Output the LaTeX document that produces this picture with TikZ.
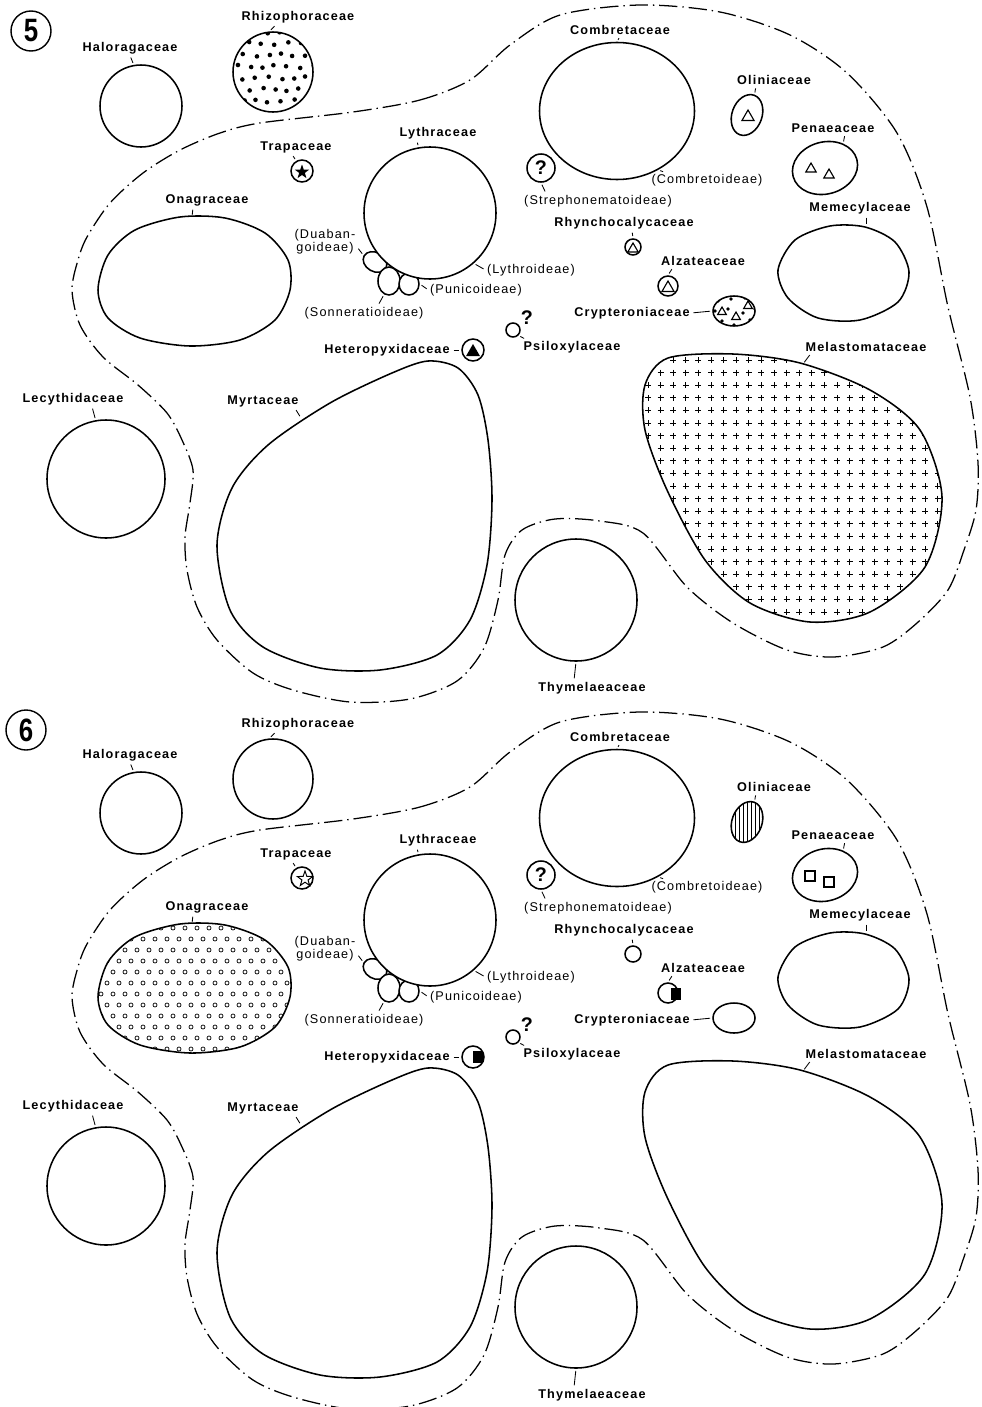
\documentclass[tikz,border=0pt]{standalone}
\usepackage{fontspec}
\usetikzlibrary{shapes.geometric}
\newfontfamily\famfont[LetterSpace=9]{Liberation Sans}
\newfontfamily\numfont{Liberation Sans}
\newdimen\px
\px=0.025cm

% outlines used in both panels (pixel grid, y downwards)
\newcommand{\borderline}{plot[smooth cycle] coordinates {(353,112) (420,100) (470,80) (510,45) (560,15) (640,5) (720,12) (790,35) (847,73) (897,133) (927,207) (948,307) (970,397) (978,463) (976,510) (964,550) (948,590) (917,623) (883,647) (833,657) (787,650) (733,623) (687,587) (643,533) (600,521) (555,519) (522,530) (505,555) (498,600) (484,648) (457,681) (410,699) (350,702) (293,690) (253,673) (217,640) (197,607) (187,570) (185,537) (190,503) (193,470) (182,440) (167,413) (138,385) (103,357) (80,325) (72,290) (78,260) (87,237) (110,203) (143,173) (180,150) (220,133) (260,123)}}
\newcommand{\onagblob}{plot[smooth cycle] coordinates {(98,290) (108,255) (135,230) (180,217) (225,218) (265,233) (288,260) (290,290) (275,320) (240,340) (190,346) (140,338) (108,318)}}
\newcommand{\myrtblob}{plot[smooth cycle] coordinates {(217,545) (232,488) (268,445) (330,403) (392,373) (428,361) (458,368) (478,395) (488,440) (492,500) (487,565) (470,620) (437,655) (380,670) (320,668) (263,647) (230,610)}}
\newcommand{\melablob}{plot[smooth cycle] coordinates {(645,385) (668,358) (733,354) (800,363) (870,390) (920,430) (942,497) (925,567) (870,612) (810,622) (750,603) (705,560) (667,490) (645,430)}}
\newcommand{\memeblob}{plot[smooth cycle] coordinates {(778,270) (795,240) (830,226) (865,227) (895,242) (909,272) (898,302) (860,320) (818,318) (788,298)}}

\begin{document}
\begin{tikzpicture}[x=0.025cm, y=-0.025cm,
    outline/.style={line width=1.1pt},
    famcirc/.style={circle, draw, outline, fill=white, inner sep=0pt, minimum size=#1\px},
    famoval/.style={ellipse, draw, outline, fill=white, inner sep=0pt},
    famlab/.style={font=\famfont\bfseries\fontsize{9}{10}\selectfont, inner sep=1pt},
    sublab/.style={font=\famfont\fontsize{9}{9.5}\selectfont, inner sep=1pt, align=center},
    tick/.style={line width=0.6pt, shorten <=1.5pt, shorten >=1.5pt},
    border/.style={line width=0.9pt, dash pattern=on 13pt off 3.5pt on 1pt off 3.5pt},
    tri/.style={regular polygon, regular polygon sides=3, draw, line width=0.8pt, inner sep=0pt, minimum size=#1\px},
    sqr/.style={rectangle, draw, line width=0.8pt, inner sep=0pt, minimum size=#1\px},
    qmark/.style={font=\numfont\bfseries\fontsize{14}{14}\selectfont, inner sep=0pt},
    panelnum/.style={circle, draw, line width=1pt, inner sep=0pt, minimum size=40\px, font=\numfont\bfseries\fontsize{23}{23}\selectfont},
    crossmark/.style={line width=0.5pt},
]
\fill[white] (0,0) rectangle (981,1407);
\useasboundingbox (0,0) rectangle (981,1407);

% Panel numbers
\node[panelnum] (num5) at (31,31) {\scalebox{0.8}[1]{5}};
\node[panelnum] (num6) at (26,730) {\scalebox{0.8}[1]{6}};

% Layout shared by both panels
\foreach \p/\dy in {5/0, 6/707}{
\begin{scope}[shift={(0,\dy)}]
  % boundary of the order
  \draw[border] \borderline;

  % families outside the boundary
  \node[famcirc=82] (halo\p) at (141,106) {};
  \node[famlab] (halolab\p) at (130,48) {Haloragaceae};
  \draw[tick] (halolab\p.south) -- (halo\p.100);
  \node[famcirc=80] (rhiz\p) at (273,72) {};
  \node[famlab] (rhizlab\p) at (298,17) {Rhizophoraceae};
  \draw[tick] ([xshift=-22\px]rhizlab\p.south) -- (rhiz\p.95);
  \node[famcirc=118] (lecy\p) at (106,479) {};
  \node[famlab] (lecylab\p) at (73,399) {Lecythidaceae};
  \draw[tick] ([xshift=19\px]lecylab\p.south) -- (lecy\p.100);
  \node[famcirc=122] (thym\p) at (576,600) {};
  \node[famlab] (thymlab\p) at (592,688) {Thymelaeaceae};
  \draw[tick] ([xshift=-18\px]thymlab\p.north) -- (thym\p.south);

  % Trapaceae, Onagraceae
  \node[famcirc=22] (trap\p) at (302,171) {};
  \node[famlab] (traplab\p) at (296,147) {Trapaceae};
  \draw[tick] ([xshift=-4\px]traplab\p.south) -- (trap\p.120);
  \draw[outline] \onagblob;
  \coordinate (onagtop\p) at (192,217);
  \node[famlab] (onaglab\p) at (207,200) {Onagraceae};
  \draw[tick] ([xshift=-14\px]onaglab\p.south) -- (onagtop\p);

  % Lythraceae and its subfamilies
  \node[famoval, minimum width=25\px, minimum height=19\px, rotate=-30] (duab\p) at (375,262) {};
  \node[famoval, minimum width=22\px, minimum height=28\px] (sonn\p) at (389,281) {};
  \node[famoval, minimum width=20\px, minimum height=22\px] (puni\p) at (409,284) {};
  \node[famcirc=132] (lyth\p) at (430,213) {};
  \node[famlab] (lythlab\p) at (438,133) {Lythraceae};
  \draw[tick] ([xshift=-21\px]lythlab\p.south) -- (lyth\p.100);
  \node[sublab] (duablab\p) at (325,242) {(Duaban-\\goideae)};
  \draw[tick] ([yshift=-5\px]duablab\p.east) -- (duab\p.west);
  \node[sublab] (lythrlab\p) at (531,270) {(Lythroideae)};
  \draw[tick] (lythrlab\p.west) -- (lyth\p.311);
  \node[sublab] (punilab\p) at (476,290) {(Punicoideae)};
  \draw[tick] (punilab\p.west) -- (puni\p.east);
  \node[sublab] (sonnlab\p) at (364,313) {(Sonneratioideae)};
  \draw[tick] ([xshift=14\px]sonnlab\p.north) -- (sonn\p.250);

  % Heteropyxidaceae, Psiloxylaceae
  \node[famcirc=22] (hete\p) at (473,350) {};
  \node[famlab] (hetelab\p) at (387,350) {Heteropyxidaceae};
  \draw[tick] (hetelab\p.east) -- (hete\p.west);
  \node[famcirc=14] (psil\p) at (513,330) {};
  \node[qmark] (psilq\p) at (527,318) {?};
  \node[famlab] (psillab\p) at (572,347) {Psiloxylaceae};
  \draw[tick] (psil\p.south east) -- ([xshift=-46\px]psillab\p.north);

  % Myrtaceae
  \draw[outline] \myrtblob;
  \coordinate (myrttop\p) at (301,418);
  \node[famlab] (myrtlab\p) at (263,401) {Myrtaceae};
  \draw[tick] ([xshift=32\px]myrtlab\p.south) -- (myrttop\p);

  % Combretaceae
  \node[famoval, minimum width=155\px, minimum height=137\px] (comb\p) at (617,111) {};
  \node[famlab] (comblab\p) at (620,30) {Combretaceae};
  \draw[tick] (comblab\p.south) -- (comb\p.north);
  \node[famcirc=28, qmark] (stre\p) at (541,168) {?};
  \node[sublab] (strelab\p) at (598,201) {(Strephonematoideae)};
  \draw[tick] (stre\p.south) -- ([xshift=-52\px]strelab\p.north);
  \node[sublab] (combolab\p) at (707,180) {(Combretoideae)};
  \draw[tick] ([xshift=-42\px]combolab\p.north) -- (comb\p.305);

  % small families in the middle
  \node[famcirc=16] (rhyn\p) at (633,247) {};
  \node[famlab] (rhynlab\p) at (624,223) {Rhynchocalycaceae};
  \draw[tick] ([xshift=8\px]rhynlab\p.south) -- (rhyn\p.north);
  \node[famcirc=20] (alza\p) at (668,286) {};
  \node[famlab] (alzalab\p) at (703,261) {Alzateaceae};
  \draw[tick] ([xshift=-30\px]alzalab\p.south) -- (alza\p.north);
  \node[famoval, minimum width=42\px, minimum height=30\px] (cryp\p) at (734,311) {};
  \node[famlab] (cryplab\p) at (632,313) {Crypteroniaceae};
  \draw[tick] (cryplab\p.east) -- (cryp\p.west);

  % Oliniaceae, Penaeaceae, Memecylaceae
  \node[famoval, minimum width=30\px, minimum height=42\px, rotate=-20] (olin\p) at (747,115) {};
  \node[famlab] (olinlab\p) at (774,80) {Oliniaceae};
  \draw[tick] ([xshift=-18\px]olinlab\p.south) -- (olin\p.north);
  \node[famoval, minimum width=66\px, minimum height=52\px, rotate=15] (pena\p) at (825,168) {};
  \node[famlab] (penalab\p) at (833,128) {Penaeaceae};
  \draw[tick] ([xshift=12\px]penalab\p.south) -- (pena\p.north east);
  \draw[outline] \memeblob;
  \coordinate (memetop\p) at (866,226);
  \node[famlab] (memelab\p) at (860,208) {Memecylaceae};
  \draw[tick] ([xshift=6\px]memelab\p.south) -- (memetop\p);

  % Melastomataceae
  \draw[outline] \melablob;
  \coordinate (melatop\p) at (803,364);
  \node[famlab] (melalab\p) at (866,347) {Melastomataceae};
  \draw[tick] ([xshift=-55\px]melalab\p.south) -- (melatop\p);
\end{scope}
}

% Panel 5 markings
\begin{scope}
  \clip (rhiz5.center) circle[radius=39.5];
  \foreach \r in {0,...,7}
    \foreach \c in {0,...,7}
      \fill ({231+\c*12.5+mod(\r,2)*6.2+1.5*sin(\r*130+\c*70)}, {32+\r*11.5+1.5*cos(\r*60+\c*110)}) circle[radius=2.3];
\end{scope}
\node[star, star points=5, star point ratio=2.5, fill, inner sep=0pt, minimum size=15\px] (trapstar5) at (302,172) {};
\node[regular polygon, regular polygon sides=3, fill, inner sep=0pt, minimum size=16\px] (hetetri5) at (473,352) {};
\node[tri=12] (rhyntri5) at (633,249) {};
\node[tri=14] (alzatri5) at (668,288) {};
\node[tri=14] (olintri5) at (748,117) {};
\node[tri=12] (penatri5a) at (811,169) {};
\node[tri=12] (penatri5b) at (829,175) {};
\begin{scope}
  \clip (734,311) ellipse[x radius=20.5, y radius=14.5];
  \foreach \x/\y in {718/301, 731/299, 745/298, 728/309, 743/313, 722/321, 734/325, 750/320, 755/309, 715/311}
    \fill (\x,\y) circle[radius=1.9];
\end{scope}
\node[tri=10] (cryptri5a) at (722,312) {};
\node[tri=10] (cryptri5b) at (736,317) {};
\node[tri=10] (cryptri5c) at (748,306) {};
\begin{scope}
  \clip \melablob;
  \foreach \r in {0,...,21}
    \foreach \c in {0,...,24}
      \draw[crossmark] ({648+\c*12.6-3},{360+\r*12.6}) -- ++(6,0) ({648+\c*12.6},{360+\r*12.6-3}) -- ++(0,6);
\end{scope}

% Panel 6 markings
\begin{scope}[shift={(0,707)}]
  \begin{scope}
    \clip \onagblob;
    \foreach \r in {0,...,11}
      \foreach \c in {0,...,16}
        \draw[line width=0.5pt] ({101+\c*12+mod(\r,2)*6}, {221+\r*11}) circle[radius=2];
  \end{scope}
  \node[star, star points=5, star point ratio=2.5, draw, line width=0.7pt, inner sep=0pt, minimum size=16\px] (trapstar6) at (305,172) {};
  \node[fill, inner sep=0pt, minimum width=10\px, minimum height=12\px] (hetesq6) at (478,350) {};
  \node[fill, inner sep=0pt, minimum width=10\px, minimum height=12\px] (alzasq6) at (676,287) {};
  \begin{scope}
    \clip[rotate around={-20:(747,115)}] (747,115) ellipse[x radius=15, y radius=21];
    \foreach \k in {0,...,10}
      \draw[line width=0.4pt] (727+\k*4,88) -- (727+\k*4,142);
  \end{scope}
  \node[sqr=10] (penasq6a) at (810,169) {};
  \node[sqr=10] (penasq6b) at (829,175) {};
\end{scope}
\end{tikzpicture}
\end{document}
